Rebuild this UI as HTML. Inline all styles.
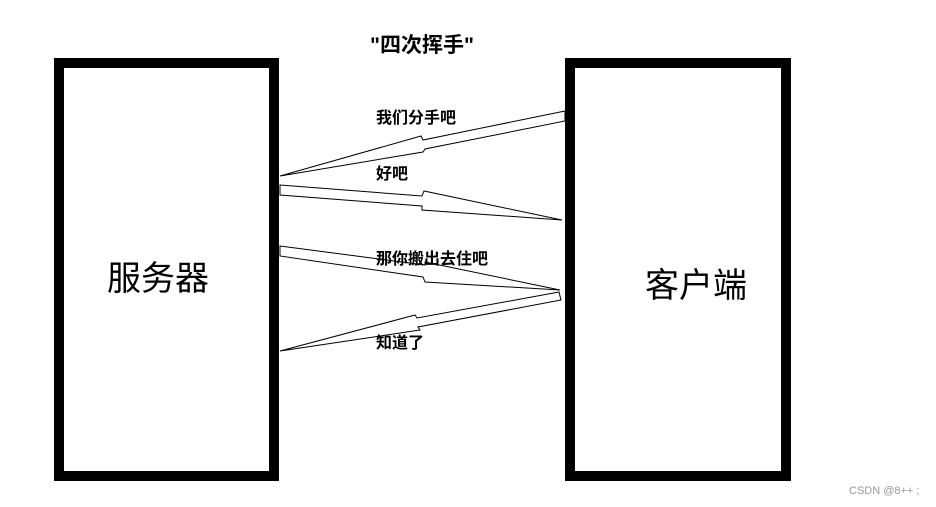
<!DOCTYPE html>
<html><head><meta charset="utf-8"><style>
html,body{margin:0;padding:0;background:#fff;}
body{width:936px;height:507px;position:relative;overflow:hidden;font-family:"Liberation Sans","Noto Sans CJK SC",sans-serif;}
.box{position:absolute;border:10px solid #000;box-sizing:border-box;}
.t{position:absolute;white-space:nowrap;color:#000;}
</style></head><body>
<div class="box" style="left:54px;top:58px;width:225px;height:423px;"></div>
<div class="box" style="left:565px;top:58px;width:226px;height:423px;"></div>
<div class="t" style="left:370px;top:29px;font-size:21px;font-weight:bold;">"四次挥手"</div>
<div class="t" style="left:107px;top:251px;font-size:34px;">服务器</div>
<div class="t" style="left:645px;top:258px;font-size:34px;">客户端</div>
<svg width="936" height="507" style="position:absolute;left:0;top:0" fill="#fff" stroke="#000" stroke-width="1">
<polygon points="565,111 423,140 421,136 280,176 423,152 425,149 565,121"/>
<polygon points="280,185 422,196 424,191 562,220 422,210 422,206 280,195"/>
<polygon points="280,246 425,265 425,262 560,290 425,282 423,277 280,256"/>
<polygon points="559,292 417,318 415,315 280,351 420,330 418,327 561,300"/>
</svg>
<div class="t" style="left:376px;top:104px;font-size:16px;font-weight:bold;">我们分手吧</div>
<div class="t" style="left:376px;top:160px;font-size:16px;font-weight:bold;">好吧</div>
<div class="t" style="left:376px;top:245px;font-size:16px;font-weight:bold;">那你搬出去住吧</div>
<div class="t" style="left:376px;top:329px;font-size:16px;font-weight:bold;">知道了</div>
<div class="t" style="left:849px;top:485px;font-size:11px;color:#999;">CSDN @8++ ;</div>
</body></html>
